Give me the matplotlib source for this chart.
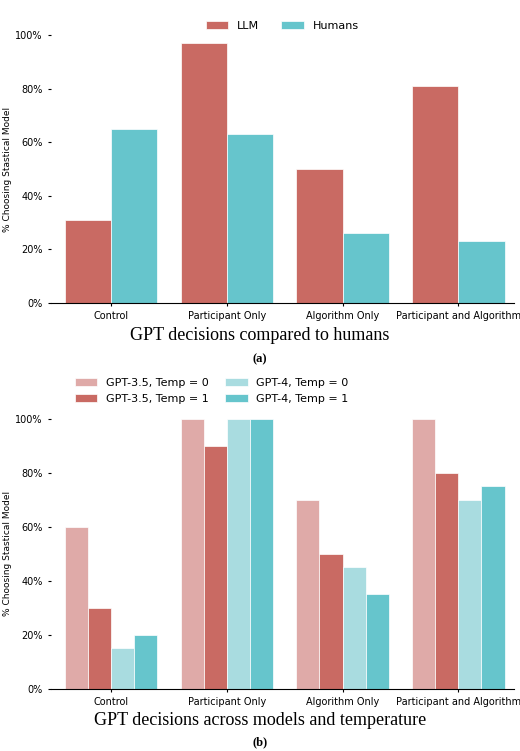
import matplotlib
matplotlib.use("Agg")
import matplotlib.pyplot as plt
import numpy as np
from matplotlib.ticker import PercentFormatter

cats = ["Control", "Participant Only", "Algorithm Only", "Participant and Algorithm"]
llm = [31, 97, 50, 81]
humans = [65, 63, 26, 23]
gpt35_t0 = [60, 100, 70, 100]
gpt35_t1 = [30, 90, 50, 80]
gpt4_t0 = [15, 100, 45, 70]
gpt4_t1 = [20, 100, 35, 75]

RED = "#c96a63"; CYAN = "#66c5cc"; LRED = "#dfaaa8"; LCYAN = "#a9dce0"

fig = plt.figure(figsize=(5.2, 7.51), dpi=100)
ax1 = fig.add_axes([0.098, 0.597, 0.89, 0.356])
ax2 = fig.add_axes([0.098, 0.083, 0.89, 0.359])

x = np.arange(len(cats))
w = 0.4
ax1.bar(x - w/2, llm, w, color=RED, label="LLM", edgecolor="white", linewidth=0.5)
ax1.bar(x + w/2, humans, w, color=CYAN, label="Humans", edgecolor="white", linewidth=0.5)
ax1.legend(loc="lower center", bbox_to_anchor=(0.5, 0.98), ncol=2, frameon=False, fontsize=8)

w2 = 0.2
series = [(gpt35_t0, LRED, "GPT-3.5, Temp = 0"), (gpt35_t1, RED, "GPT-3.5, Temp = 1"),
          (gpt4_t0, LCYAN, "GPT-4, Temp = 0"), (gpt4_t1, CYAN, "GPT-4, Temp = 1")]
for i, (v, c, l) in enumerate(series):
    ax2.bar(x + (i - 1.5) * w2, v, w2, color=c, label=l, edgecolor="white", linewidth=0.5)
ax2.legend(loc="lower left", bbox_to_anchor=(0.03, 1.02), ncol=2, frameon=False, fontsize=8,
           columnspacing=1.5)

for ax in (ax1, ax2):
    ax.set_xticks(x)
    ax.set_xticklabels(cats, fontsize=7)
    ax.set_xlim(-0.52, 3.48)
    ax.set_ylim(0, 100)
    ax.set_yticks([0, 20, 40, 60, 80, 100])
    ax.yaxis.set_major_formatter(PercentFormatter(decimals=0))
    ax.tick_params(labelsize=7, length=2.5)
    ax.set_ylabel("% Choosing Stastical Model", fontsize=6.5, labelpad=2)
    ax.spines["top"].set_visible(False)
    ax.spines["right"].set_visible(False)
    ax.spines["left"].set_visible(False)

fig.text(0.5, 0.553, "GPT decisions compared to humans", ha="center", va="center",
         family="Liberation Serif", fontsize=13)
fig.text(0.5, 0.521, "(a)", ha="center", va="center", family="Liberation Serif",
         fontsize=9, weight="bold")
fig.text(0.5, 0.041, "GPT decisions across models and temperature", ha="center", va="center",
         family="Liberation Serif", fontsize=13)
fig.text(0.5, 0.012, "(b)", ha="center", va="center", family="Liberation Serif",
         fontsize=9, weight="bold")

fig.savefig("out.png", dpi=100)
